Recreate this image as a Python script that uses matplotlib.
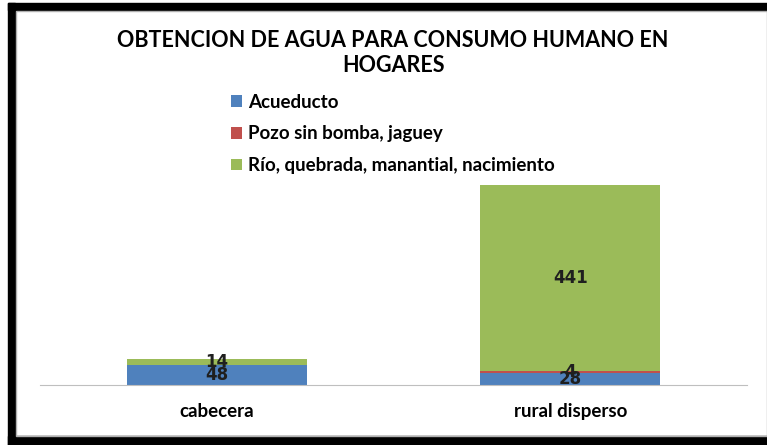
import matplotlib.pyplot as plt
from matplotlib.patches import Rectangle

# datos
categorias = ['cabecera', 'rural disperso']
series = ['Acueducto', 'Pozo sin bomba, jaguey', 'Río, quebrada, manantial, nacimiento']
acueducto = [48, 28]
pozo = [0, 4]
rio = [14, 441]
colores = ['#4F81BD', '#C0504D', '#9BBB59']

plt.rcParams['font.family'] = ['Lato', 'DejaVu Sans']

fig = plt.figure(figsize=(7.67, 4.45), dpi=100)

# marco negro de la imagen
fig.patches.append(Rectangle((8 / 767, 0), 7 / 767, 442 / 445, transform=fig.transFigure,
                             color='black', zorder=0))
fig.patches.append(Rectangle((8 / 767, 435 / 445), 759 / 767, 7 / 445, transform=fig.transFigure,
                             color='black', zorder=0))
fig.patches.append(Rectangle((8 / 767, 0), 759 / 767, 9 / 445, transform=fig.transFigure,
                             color='black', zorder=0))
fig.patches.append(Rectangle((16 / 767, 9 / 445), 751 / 767, 425 / 445, transform=fig.transFigure,
                             facecolor='none', edgecolor='#B0B0B0', lw=1, zorder=0))

ax = fig.add_axes([40 / 767, 60 / 445, 707 / 767, 200 / 445])
x = range(len(categorias))
ancho = 0.51

abajo = [0, 0]
for valores, nombre, color in zip([acueducto, pozo, rio], series, colores):
    barras = ax.bar(x, valores, ancho, bottom=abajo, color=color, label=nombre)
    for b, v, base in zip(barras, valores, abajo):
        if v > 0:
            ax.text(b.get_x() + b.get_width() / 2, base + v / 2, str(v), ha='center', va='center',
                    fontsize=12, fontweight='bold', color='#1F1F1F', family='DejaVu Sans',
                    clip_on=False)
    abajo = [a + v for a, v in zip(abajo, valores)]

ax.set_xlim(-0.5, 1.5)
ax.set_ylim(0, 473)
ax.set_yticks([])
ax.set_xticks(list(x))
ax.set_xticklabels(categorias, fontsize=13.5, fontweight='bold')
ax.tick_params(axis='x', length=0, pad=13)
for lado in ['top', 'right', 'left']:
    ax.spines[lado].set_visible(False)
ax.spines['bottom'].set_color('#BFBFBF')
ax.patch.set_visible(False)

fig.text(393 / 767, 1 - 53 / 445, 'OBTENCION DE AGUA PARA CONSUMO HUMANO EN\nHOGARES',
         ha='center', va='center', fontsize=15.5, fontweight='bold', linespacing=1.25)

fig.legend(loc='upper left', bbox_to_anchor=(214 / 767, 1 - 77 / 445), frameon=False,
           prop={'size': 13.5, 'weight': 'bold'}, handlelength=0.6, handleheight=0.6,
           handletextpad=0.3, labelspacing=0.78)

fig.savefig('out.png', dpi=100)
